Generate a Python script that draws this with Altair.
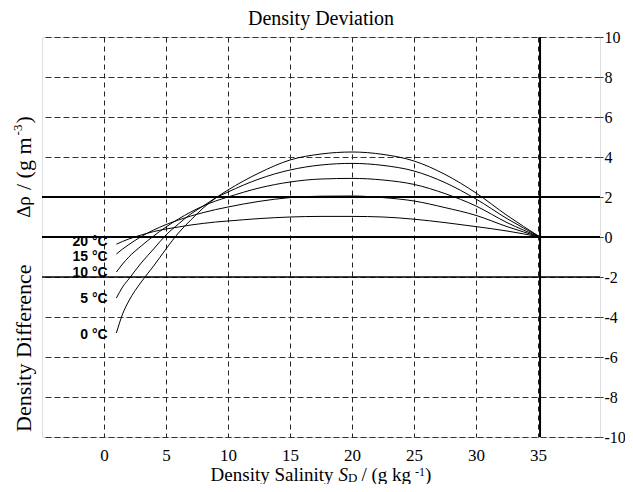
import altair as alt
import pandas as pd

# ---------------- data ----------------
temps = ["0 °C", "5 °C", "10 °C", "15 °C", "20 °C"]
salinity = [1, 1.5, 2, 3, 4, 5, 6, 7, 8, 9, 10, 12.5, 15, 17.5, 20, 22.5, 25, 27.5, 30, 32.5, 35.165]
dev_0C = [-4.8, -3.85, -3.2, -2.25, -1.45, -0.6, 0.2, 0.85, 1.45, 1.95, 2.35, 3.2, 3.85, 4.15, 4.25, 4.13, 3.8, 3.13, 2.2, 1.08, 0]
dev_5C = [-3.05, -2.5, -2.1, -1.3, -0.6, 0.1, 0.65, 1.15, 1.55, 1.95, 2.25, 2.9, 3.35, 3.6, 3.68, 3.58, 3.3, 2.72, 1.9, 0.92, 0]
dev_10C = [-1.75, -1.35, -1.0, -0.45, 0.05, 0.5, 0.9, 1.25, 1.55, 1.8, 2.0, 2.45, 2.75, 2.9, 2.93, 2.85, 2.63, 2.17, 1.55, 0.72, 0]
dev_15C = [-0.85, -0.6, -0.38, 0.02, 0.35, 0.62, 0.85, 1.05, 1.22, 1.37, 1.5, 1.78, 1.97, 2.04, 2.05, 1.97, 1.8, 1.47, 1.08, 0.52, 0]
dev_20C = [-0.36, -0.22, -0.1, 0.1, 0.27, 0.4, 0.5, 0.6, 0.68, 0.75, 0.8, 0.92, 1.0, 1.03, 1.03, 1.0, 0.89, 0.72, 0.52, 0.3, 0]
label_s = 0.3
label_y = [-4.88, -3.1, -1.8, -1.0, -0.25]
x_ticks = [0, 5, 10, 15, 20, 25, 30, 35]
y_ticks = [-10, -8, -6, -4, -2, 0, 2, 4, 6, 8, 10]
solid_levels = [2, 0, -2]
solid_widths = [2, 2, 1.5]
reference_salinity = 35.165

# ---------------- tables ----------------
series = [dev_0C, dev_5C, dev_10C, dev_15C, dev_20C]
rows = []
for t, vals in zip(temps, series):
    for s, v in zip(salinity, vals):
        rows.append({"S": s, "d": v, "T": t})
curves_df = pd.DataFrame(rows)
labels_df = pd.DataFrame({"S": [label_s] * len(temps), "d": label_y, "T": temps})
hrule_df = pd.DataFrame({"y": solid_levels, "w": solid_widths})
vrule_df = pd.DataFrame({"x": [reference_salinity]})
one = pd.DataFrame({"a": [0]})

W, H = 558, 400
xs = alt.Scale(domain=[-5, 40], nice=False, zero=False)
ys = alt.Scale(domain=[-10, 10], nice=False, zero=False)
SERIF = "Liberation Serif"

x_axis = alt.Axis(values=x_ticks, grid=True, gridDash=[5, 4], gridColor="#222", gridWidth=1,
                  ticks=False, tickSize=0, domain=False, labelFont=SERIF, labelFontSize=17,
                  labelColor="black", labelPadding=10, title=None, labelFlush=False)
y_axis = alt.Axis(orient="right", values=y_ticks, grid=True, gridDash=[6, 3], gridColor="#333",
                  gridWidth=1, tickSize=3, tickColor="#333", domain=False, labelFont=SERIF,
                  labelFontSize=16, labelColor="black", labelPadding=1, title=None,
                  labelFlush=False, labelOverlap=False,
                  labelExpr="datum.value < 0 ? '-' + abs(datum.value) : '' + datum.value")

curves = alt.Chart(curves_df).mark_line(color="black", strokeWidth=1, interpolate="monotone").encode(
    x=alt.X("S:Q", scale=xs, axis=x_axis),
    y=alt.Y("d:Q", scale=ys, axis=y_axis),
    detail="T:N",
)

hrules = alt.Chart(hrule_df).mark_rule(color="black").encode(
    y=alt.Y("y:Q", scale=ys, axis=y_axis),
    strokeWidth=alt.StrokeWidth("w:Q", scale=None),
)

vrule = alt.Chart(vrule_df).mark_rule(color="black", strokeWidth=2).encode(
    x=alt.X("x:Q", scale=xs, axis=x_axis),
)

labels = alt.Chart(labels_df).mark_text(align="right", baseline="middle", font="Liberation Sans",
                                         fontWeight="bold", fontSize=14, color="black").encode(
    x=alt.X("S:Q", scale=xs, axis=x_axis),
    y=alt.Y("d:Q", scale=ys, axis=y_axis),
    text="T:N",
)


def txt(text, x, y, size, align="left", baseline="alphabetic", angle=0, style="normal"):
    return alt.Chart(one).mark_text(text=text, fontSize=size, font=SERIF, align=align,
                                    baseline=baseline, angle=angle, fontStyle=style,
                                    color="black").encode(x=alt.value(x), y=alt.value(y))


# Times-like advance widths (em) for layout of composite titles
ADV = {" ": .25, "D": .722, "e": .444, "n": .5, "s": .389, "i": .278, "t": .278, "y": .5,
       "S": .556, "a": .444, "l": .278, "/": .278, "(": .333, ")": .333, "g": .5, "k": .5,
       "m": .778, "-": .333, "1": .5, "3": .5, "f": .333, "r": .333, "c": .444}


def width(text, size, style="normal"):
    if style == "italic" and text == "S":
        return 0.5 * size
    return sum(ADV.get(ch, .5) for ch in text) * size


texts = [txt("Density Deviation", W / 2, -12, 20, align="center")]

# x title: Density Salinity S_D / (g kg -1)   (text, size, dy, style, gap before)
xt_parts = [("Density Salinity", 19, 0, "normal", 0), ("S", 19, 0, "italic", 5),
            ("D", 13, 1, "normal", 0), ("/ (g kg", 19, 0, "normal", 4),
            ("-1", 12, -5, "normal", 4), (")", 19, 0, "normal", 0)]
total = sum(width(t, s, st) + g for t, s, _, st, g in xt_parts)
cx = W / 2 - total / 2
for t, s, dy, st, g in xt_parts:
    cx += g
    texts.append(txt(t, cx, 444 + dy, s, style=st))
    cx += width(t, s, st)

# y title (rotated): Density Difference  Δρ  / (g m-3)
texts.append(txt("Density Difference", -18, 395, 22, baseline="middle", angle=270))
texts.append(txt("Δρ", -18, 170, 19, align="center", baseline="middle", angle=270))
cy = 153
texts.append(txt("/ (g m", -18, cy, 22, baseline="middle", angle=270))
cy -= width("/ (g m", 22) + 2
texts.append(txt("-3", -24, cy, 13, baseline="middle", angle=270))
cy -= width("-3", 13) + 1
texts.append(txt(")", -18, cy, 22, baseline="middle", angle=270))

chart = alt.layer(curves, hrules, vrule, labels, *texts).properties(
    width=W, height=H,
    padding={"left": 34, "top": 29, "right": 25, "bottom": 47},
    autosize="none",
).configure_view(stroke="#333", strokeWidth=1).configure(background="white")

chart.save("out.html", embed_options={"renderer": "svg", "actions": False})
